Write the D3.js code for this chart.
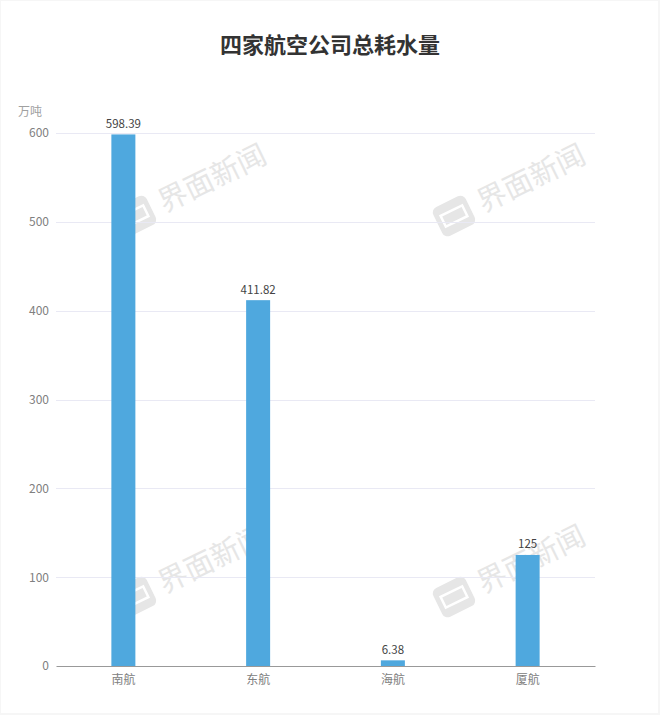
<!DOCTYPE html>
<html>
<head>
<meta charset="utf-8">
<script src="https://cdn.jsdelivr.net/npm/d3@7/dist/d3.min.js"></script>
<style>
  html, body { margin: 0; padding: 0; background: #f6f6f6; }
  text { font-family: "Noto Sans CJK SC", "Noto Sans", sans-serif; }
</style>
</head>
<body>
<div id="chart"></div>
<script>
const width = 660, height = 715;
const margin = { top: 133, right: 65, bottom: 49, left: 56 };
const innerWidth = width - margin.left - margin.right;
const innerHeight = height - margin.top - margin.bottom;

const airlines = ["南航", "东航", "海航", "厦航"];
const waterUse = [598.39, 411.82, 6.38, 125];
const yTicks = [0, 100, 200, 300, 400, 500, 600];
const chartTitle = "四家航空公司总耗水量";
const yUnit = "万吨";
const watermarkText = "界面新闻";

const svg = d3.select("#chart")
    .append("svg")
    .attr("width", width)
    .attr("height", height)
    .style("display", "block");

// page frame
svg.append("rect")
    .attr("x", 1).attr("y", 1)
    .attr("width", width - 3).attr("height", height - 3)
    .attr("fill", "#fff");

// watermarks go first so the bars cover them
function drawWatermark(x, y) {
    const g = svg.append("g")
        .attr("transform", `translate(${x}, ${y}) rotate(-26)`);

    g.append("rect")
        .attr("x", -18).attr("y", -16)
        .attr("width", 36).attr("height", 32)
        .attr("rx", 6)
        .attr("fill", "#e6e6e6");
    g.append("rect")
        .attr("x", -12).attr("y", -6)
        .attr("width", 24).attr("height", 12)
        .attr("fill", "none")
        .attr("stroke", "#fff")
        .attr("stroke-width", 2.5);

    g.append("text")
        .attr("x", 28)
        .attr("y", 10)
        .attr("font-size", 29)
        .attr("fill", "#e6e6e6")
        .text(watermarkText);
}
[[135, 216], [454, 216], [135, 597], [454, 597]].forEach(p => drawWatermark(p[0], p[1]));

const chart = svg.append("g")
    .attr("transform", `translate(${margin.left}, ${margin.top})`);

const xScale = d3.scaleBand()
    .domain(airlines)
    .range([0, innerWidth]);

const yScale = d3.scaleLinear()
    .domain([0, 600])
    .range([innerHeight, 0]);

// gridlines
chart.selectAll("line.grid")
    .data(yTicks.filter(d => d > 0))
    .enter()
    .append("line")
    .attr("class", "grid")
    .attr("x1", 0)
    .attr("x2", innerWidth)
    .attr("y1", d => Math.round(yScale(d)) + 0.5)
    .attr("y2", d => Math.round(yScale(d)) + 0.5)
    .attr("stroke", "#e9e9f4");

// bars
const barWidth = 24;
chart.selectAll("rect.bar")
    .data(waterUse)
    .enter()
    .append("rect")
    .attr("class", "bar")
    .attr("x", (d, i) => xScale(airlines[i]) + xScale.bandwidth() / 2 - barWidth / 2)
    .attr("y", d => yScale(d))
    .attr("width", barWidth)
    .attr("height", d => innerHeight - yScale(d))
    .attr("fill", "#4fa8de");

// value labels
chart.selectAll("text.value")
    .data(waterUse)
    .enter()
    .append("text")
    .attr("class", "value")
    .attr("x", (d, i) => xScale(airlines[i]) + xScale.bandwidth() / 2)
    .attr("y", d => yScale(d) - 6.5)
    .attr("text-anchor", "middle")
    .attr("font-size", 11.5)
    .attr("fill", "#444")
    .text(d => d);

// axes
const yAxis = chart.append("g")
    .call(d3.axisLeft(yScale).tickValues(yTicks).tickSize(0).tickPadding(7));
yAxis.select(".domain").remove();
yAxis.selectAll("text")
    .attr("font-size", 12)
    .attr("font-family", null)
    .attr("fill", "#808080");

const xAxis = chart.append("g")
    .attr("transform", `translate(0, ${innerHeight})`)
    .call(d3.axisBottom(xScale).tickSize(0).tickPadding(9));
xAxis.select(".domain")
    .attr("stroke", "#999")
    .attr("stroke-width", 1);
xAxis.selectAll("text")
    .attr("font-size", 12)
    .attr("font-family", null)
    .attr("fill", "#808080");

// unit label
svg.append("text")
    .attr("x", 30)
    .attr("y", 116)
    .attr("text-anchor", "middle")
    .attr("font-size", 12)
    .attr("fill", "#a0a0a0")
    .text(yUnit);

// title
svg.append("text")
    .attr("x", 330)
    .attr("y", 53)
    .attr("text-anchor", "middle")
    .attr("font-size", 22)
    .attr("font-weight", "bold")
    .attr("fill", "#333")
    .text(chartTitle);
</script>
</body>
</html>
